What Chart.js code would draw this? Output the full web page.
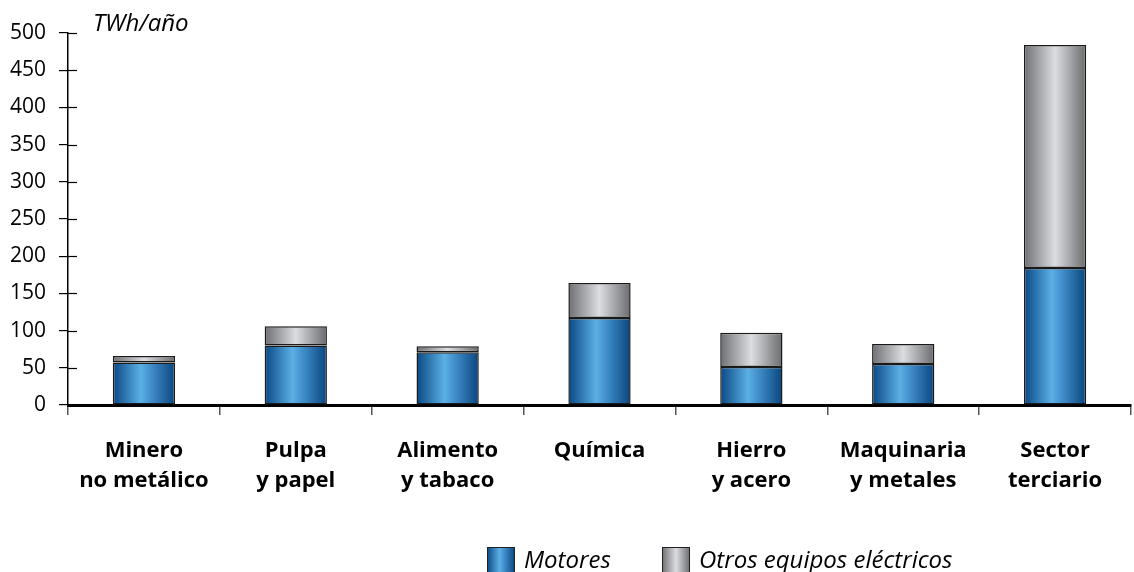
<!DOCTYPE html>
<html>
<head>
<meta charset="utf-8">
<script src="https://cdn.jsdelivr.net/npm/chart.js@4.4.1/dist/chart.umd.min.js"></script>
<style>
  html, body { margin: 0; padding: 0; background: #fff; }
  #wrap { width: 1134px; height: 572px; position: relative; }
</style>
</head>
<body>
<div id="wrap"><canvas id="myChart"></canvas></div>
<script>
const categorias = [
    ['Minero', 'no metálico'],
    ['Pulpa', 'y papel'],
    ['Alimento', 'y tabaco'],
    ['Química'],
    ['Hierro', 'y acero'],
    ['Maquinaria', 'y metales'],
    ['Sector', 'terciario']
];
const motores = [57, 80, 71, 117, 51, 55, 184];
const otrosEquipos = [9, 26, 8, 47, 46, 27, 300];
const ticksY = [0, 50, 100, 150, 200, 250, 300, 350, 400, 450, 500];

const FUENTE = '"Open Sans", "Noto Sans", sans-serif';
const BARRA = 0.41;

const paradasAzul = [[0, '#0a4783'], [0.45, '#5bb0e5'], [0.55, '#4a9ad6'], [1, '#09457f']];
const paradasGris = [[0, '#6e6f73'], [0.5, '#dcdde0'], [1, '#6a6b6e']];

function degradado(context, paradas) {
    const chart = context.chart;
    const x = chart.scales.x;
    if (!x || !x.width) return paradas[1][1];
    const cx = x.getPixelForValue(context.dataIndex);
    const w = (x.width / categorias.length) * BARRA;
    const g = chart.ctx.createLinearGradient(cx - w / 2, 0, cx + w / 2, 0);
    paradas.forEach(p => g.addColorStop(p[0], p[1]));
    return g;
}

const extras = {
    id: 'extras',
    afterDraw(chart) {
        const ctx = chart.ctx;
        const y = chart.scales.y;
        const left = chart.chartArea.left;
        ctx.save();
        // marcas del eje Y hacia dentro
        ctx.strokeStyle = '#000';
        ctx.lineWidth = 1.2;
        ticksY.forEach(v => {
            const py = Math.round(y.getPixelForValue(v)) + 0.5;
            ctx.beginPath();
            ctx.moveTo(left, py);
            ctx.lineTo(left + 9, py);
            ctx.stroke();
        });
        // unidad
        ctx.fillStyle = '#000';
        ctx.font = 'italic 24px ' + FUENTE;
        ctx.textBaseline = 'middle';
        ctx.textAlign = 'left';
        ctx.fillText('TWh/año', 93, 24);
        // leyenda
        const items = [
            { x: 487, texto: 'Motores', paradas: paradasAzul },
            { x: 662, texto: 'Otros equipos eléctricos', paradas: paradasGris }
        ];
        items.forEach(it => {
            const g = ctx.createLinearGradient(it.x, 0, it.x + 28, 0);
            it.paradas.forEach(p => g.addColorStop(p[0], p[1]));
            ctx.fillStyle = g;
            ctx.fillRect(it.x, 547, 28, 28);
            ctx.strokeStyle = '#222';
            ctx.lineWidth = 1;
            ctx.strokeRect(it.x + 0.5, 547.5, 27, 27);
            ctx.fillStyle = '#000';
            ctx.font = 'italic 24px ' + FUENTE;
            ctx.fillText(it.texto, it.x + 37, 561);
        });
        ctx.restore();
    }
};

new Chart(document.getElementById('myChart').getContext('2d'), {
    type: 'bar',
    data: {
        labels: categorias,
        datasets: [
            {
                label: 'Motores',
                data: motores,
                backgroundColor: c => degradado(c, paradasAzul),
                borderColor: '#1a1a1a',
                borderWidth: 1.5,
                borderSkipped: false
            },
            {
                label: 'Otros equipos eléctricos',
                data: otrosEquipos,
                backgroundColor: c => degradado(c, paradasGris),
                borderColor: '#1a1a1a',
                borderWidth: 1.5,
                borderSkipped: false
            }
        ]
    },
    options: {
        responsive: true,
        maintainAspectRatio: false,
        animation: false,
        layout: { padding: { top: 33, right: 3, left: 0, bottom: 0 } },
        datasets: { bar: { categoryPercentage: 1, barPercentage: BARRA } },
        plugins: {
            legend: { display: false },
            tooltip: { enabled: false }
        },
        scales: {
            x: {
                stacked: true,
                afterFit: s => { s.height = 167; },
                border: { color: '#000', width: 3 },
                grid: { drawOnChartArea: false, tickLength: 10, color: '#555', lineWidth: 1.5 },
                ticks: {
                    color: '#000',
                    padding: 20,
                    maxRotation: 0,
                    font: { family: FUENTE, size: 22, weight: 'bold', lineHeight: 1.4 }
                }
            },
            y: {
                stacked: true,
                min: 0,
                max: 500,
                afterFit: s => { s.width = 68; },
                afterBuildTicks: s => { s.ticks = ticksY.map(v => ({ value: v })); },
                border: { color: '#000', width: 1.5 },
                grid: { drawOnChartArea: false, tickLength: 9, color: '#000', lineWidth: 1.2 },
                ticks: {
                    color: '#000',
                    padding: 13,
                    font: { family: FUENTE, size: 21 }
                }
            }
        }
    },
    plugins: [extras]
});
</script>
</body>
</html>
